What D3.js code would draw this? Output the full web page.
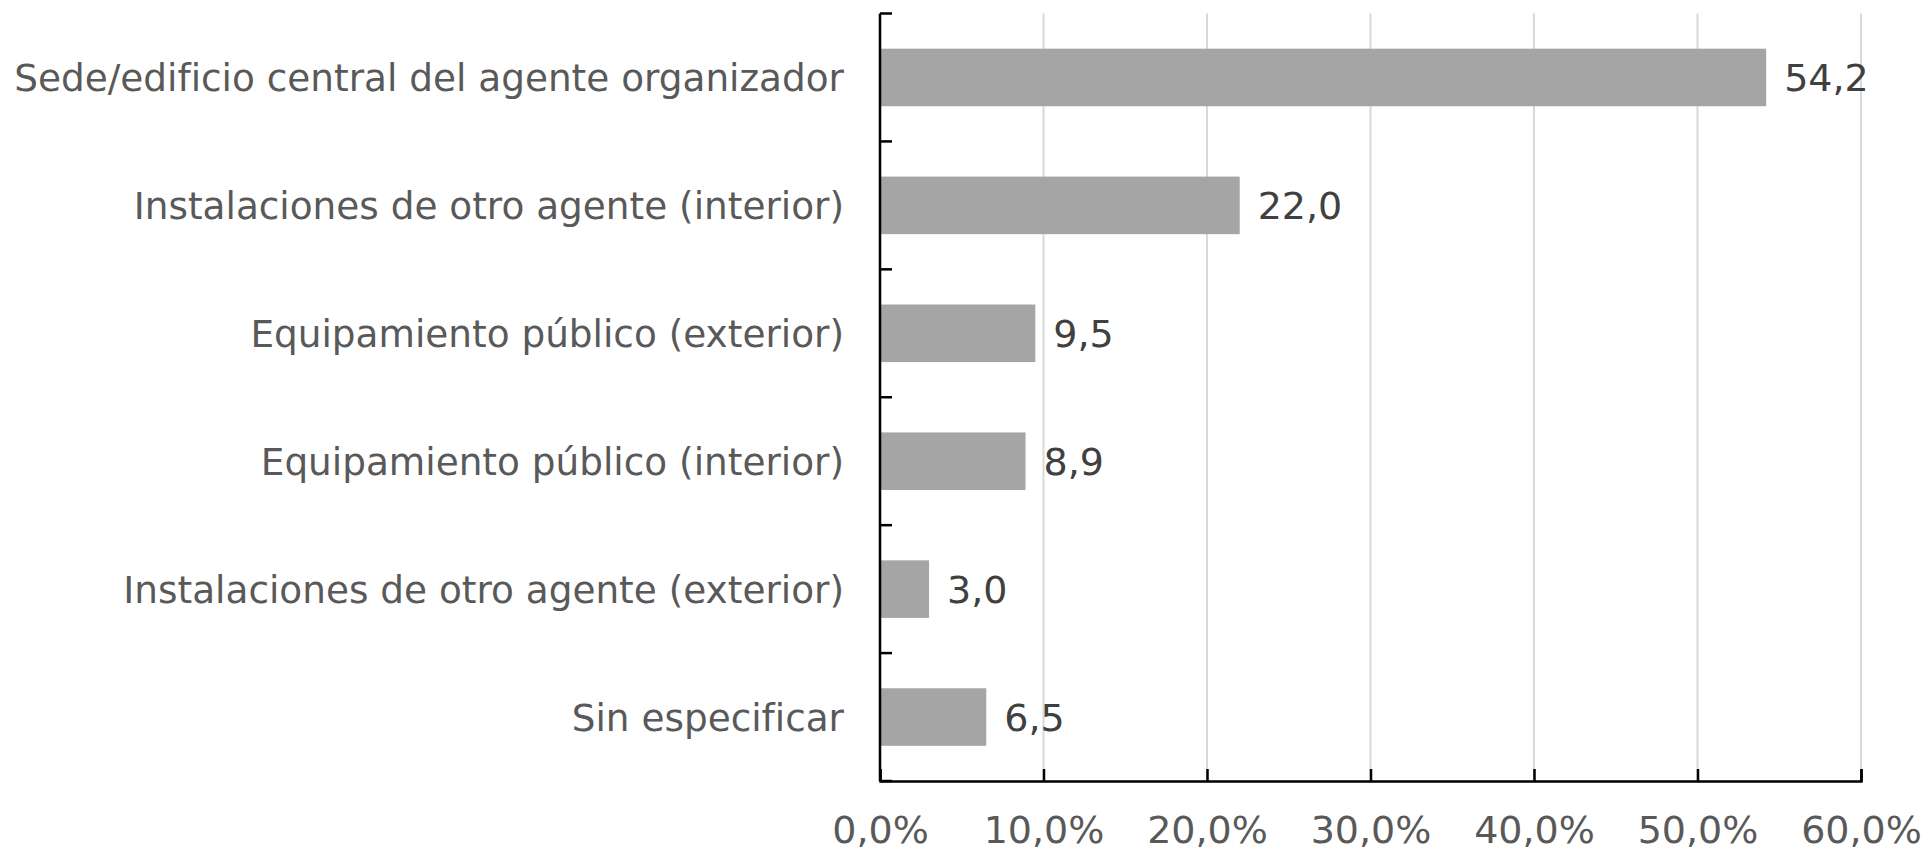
<!DOCTYPE html>
<html lang="es">
<head>
<meta charset="utf-8">
<title>Lugar de realización</title>
<script src="https://d3js.org/d3.v7.min.js"></script>
<style>
  body { margin: 0; background: #fff; }
  text { font-family: "DejaVu Sans", Verdana, sans-serif; }
</style>
</head>
<body>
<script>
var w = 1929, h = 850;

var categorias = [
  "Sede/edificio central del agente organizador",
  "Instalaciones de otro agente (interior)",
  "Equipamiento público (exterior)",
  "Equipamiento público (interior)",
  "Instalaciones de otro agente (exterior)",
  "Sin especificar"
];
var valores = [54.2, 22.0, 9.5, 8.9, 3.0, 6.5];
var ticks = [0, 10, 20, 30, 40, 50, 60];

var mIzq = 880, mDer = 1861, mSup = 13.5, mInf = 781;

var svg = d3.select("body").append("svg").attr("width", w).attr("height", h);

var x = d3.scaleLinear().domain([0, 60]).range([mIzq, mDer]);
var y = d3.scaleBand().domain(categorias).range([mSup, mInf]).paddingInner(0.55).paddingOuter(0.275);

var coma = function (v, dec) { return v.toFixed(dec).replace(".", ","); };

// rejilla
svg.append("g").selectAll("line")
  .data(ticks.slice(1)).enter().append("line")
  .attr("x1", d => x(d)).attr("x2", d => x(d))
  .attr("y1", mSup).attr("y2", mInf)
  .attr("stroke", "#d9d9d9").attr("stroke-width", 2);

// barras
svg.append("g").selectAll("rect")
  .data(valores).enter().append("rect")
  .attr("x", x(0))
  .attr("y", (d, i) => y(categorias[i]))
  .attr("width", d => x(d) - x(0))
  .attr("height", y.bandwidth())
  .attr("fill", "#a5a5a5");

// etiquetas de valor
svg.append("g").selectAll("text")
  .data(valores).enter().append("text")
  .attr("x", d => x(d) + 18)
  .attr("y", (d, i) => y(categorias[i]) + y.bandwidth() / 2 + 14)
  .attr("font-size", 38)
  .attr("fill", "#404040")
  .text(d => coma(d, 1));

// eje x
var ejeX = d3.axisBottom(x).tickValues(ticks).tickSize(-12).tickPadding(35)
  .tickFormat(d => coma(d, 1) + "%");
var gx = svg.append("g").attr("transform", "translate(0," + mInf + ")").call(ejeX);
gx.select(".domain").attr("stroke", "#000").attr("stroke-width", 2.5);
gx.selectAll(".tick line").attr("stroke", "#000").attr("stroke-width", 2.5);
gx.selectAll(".tick text").attr("font-size", 38).attr("fill", "#595959")
  .attr("font-family", "DejaVu Sans");

// eje y
var limites = d3.range(categorias.length + 1).map(i => mSup + i * (mInf - mSup) / categorias.length);
svg.append("line").attr("x1", mIzq).attr("x2", mIzq).attr("y1", mSup).attr("y2", mInf)
  .attr("stroke", "#000").attr("stroke-width", 2.5);
svg.append("g").selectAll("line")
  .data(limites).enter().append("line")
  .attr("x1", mIzq).attr("x2", mIzq + 12)
  .attr("y1", d => d).attr("y2", d => d)
  .attr("stroke", "#000").attr("stroke-width", 2.5);

svg.append("g").selectAll("text")
  .data(categorias).enter().append("text")
  .attr("x", mIzq - 36)
  .attr("y", d => y(d) + y.bandwidth() / 2 + 14)
  .attr("text-anchor", "end")
  .attr("font-size", 37.4)
  .attr("fill", "#595959")
  .text(d => d);
</script>
</body>
</html>
